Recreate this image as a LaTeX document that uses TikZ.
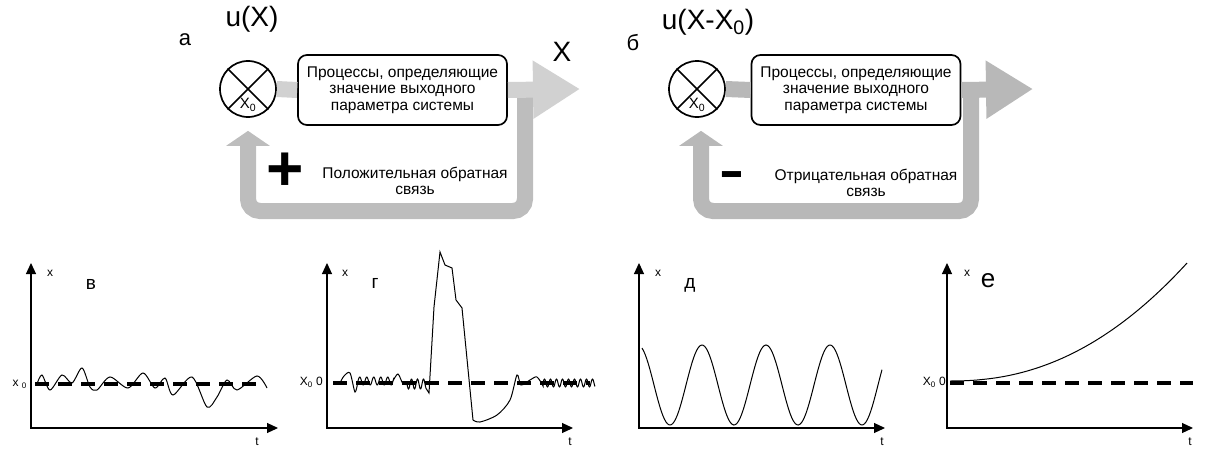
\documentclass[tikz,border=0pt]{standalone}
\usepackage{fontspec}
\setmainfont{Liberation Sans}
\usetikzlibrary{arrows.meta,positioning}
\definecolor{bandA}{gray}{0.82}
\definecolor{fbA}{gray}{0.74}
\definecolor{bandB}{gray}{0.72}

\begin{document}
\begin{tikzpicture}[x=1pt,y=-1pt,>={Triangle[length=11pt,width=10pt]},
 every node/.style={font=\fontsize{15.5}{16.5}\selectfont,inner sep=0pt},
 proc/.style={draw,fill=white,line width=1.7pt,rounded corners=9pt,align=center,minimum width=209pt,minimum height=70pt},
 summ/.style={draw,circle,line width=1.7pt,minimum size=56pt},
 band/.style={line width=16pt},
 lbl/.style={font=\fontsize{22}{22}\selectfont},
 big/.style={font=\fontsize{28}{28}\selectfont},
 ax/.style={line width=1.1pt,<->},
 lvl/.style={line width=3.2pt,dash pattern=on 14pt off 9pt},
 crv/.style={line width=1pt},
 small/.style={font=\fontsize{12}{12}\selectfont},
 gl/.style={font=\fontsize{19}{19}\selectfont}]
\useasboundingbox (0,0) rectangle (1210,452);

\node[lbl] (la) at (185,40) {а};
\node[big] (ua) at (252,19) {u(X)};
\node[big] (xout) at (562,52) {X};
\node[summ] (sumA) at (248,89) {};
\draw[line width=1.7pt] (sumA.north west) -- (sumA.south east) (sumA.north east) -- (sumA.south west);
\node[font=\fontsize{15}{15}\selectfont] (xa) at (248,105) {X\textsubscript{0}};
\node[proc] (procA) at (402.5,90) {Процессы, определяющие\\значение выходного\\параметра системы};
\coordinate (tipA) at (580,89);
\coordinate (fbA) at (525,89);
\coordinate (cA) at (248,211);
\draw[band,fbA,rounded corners=12pt,-{Triangle[length=15pt,width=43pt]},shorten >=13pt] (fbA) |- (cA) -- (sumA.south);
\draw[band,bandA] (sumA.east) -- (procA.west);
\draw[band,bandA,-{Triangle[length=47pt,width=55pt]}] (procA.east) -- (tipA);
\node[font=\fontsize{64}{64}\selectfont\bfseries] (plus) at (285,172) {+};
\node[align=center] (pos) at (415,181) {Положительная обратная\\связь};

\node[lbl] (lb) at (633,43) {б};
\node[big] (ub) at (708,22) {u(X-X\textsubscript{0})};
\node[summ] (sumB) at (697,89) {};
\draw[line width=1.7pt] (sumB.north west) -- (sumB.south east) (sumB.north east) -- (sumB.south west);
\node[font=\fontsize{15}{15}\selectfont] (xb) at (697,105) {X\textsubscript{0}};
\node[proc] (procB) at (856,90) {Процессы, определяющие\\значение выходного\\параметра системы};
\coordinate (tipB) at (1033,89);
\coordinate (fbB) at (971,89);
\coordinate (cB) at (701,211);
\draw[band,bandB,rounded corners=12pt,-{Triangle[length=15pt,width=43pt]},shorten >=13pt] (fbB) |- (cB) -- (sumB.south -| cB);
\draw[band,bandB] (sumB.east) -- (procB.west);
\draw[band,bandB,-{Triangle[length=47pt,width=55pt]}] (procB.east) -- (tipB);
\node[font=\fontsize{50}{50}\selectfont\bfseries] (minus) at (732,180) {\scalebox{1.5}[1]{-}};
\node[align=center] (neg) at (866,183) {Отрицательная обратная\\связь};

\draw[lvl] (35,384) -- (262,384);
\draw[crv] plot[smooth] coordinates {(37,384) (42,375) (50,390) (62,375) (72,383) (82,368) (90,387) (97,390) (110,377) (128,388) (143,373) (155,388) (165,378) (173,395) (192,377) (207,407) (217,397) (227,380) (237,390) (257,376) (267,388)};
\draw[ax] (31,263) -- (31,428) -- (278,428);
\node[small] (xv) at (50,273) {x};
\node[gl] (lv) at (91,284) {в};
\node[small,anchor=east] (x0v) at (27,384) {x \textsubscript{0}};
\node[small] (tv) at (257,442) {t};

\draw[lvl] (333,383) -- (590,383);
\draw[crv] plot[smooth] coordinates {(340,383) (344,376) (350,373) (355,392) (358,381)}
 -- plot[domain=358:393,samples=71] (\x,{381-4*sin((\x-358)*51.43)})
 -- plot[smooth] coordinates {(393,381) (398,374) (403,384) (407,384)}
 -- plot[domain=407:426,samples=41] (\x,{384+5*sin((\x-407)*60)})
 -- (429,393) -- (434,307) -- (440,252) -- (445,265) -- (452,268) -- (456,300) -- (462,308) -- (473,420)
 -- plot[smooth] coordinates {(473,420) (480,422) (497,415) (510,400) (517,375) (521,385) (530,380) (537,377) (543,386)}
 -- plot[domain=543:595,samples=105] (\x,{383-4*sin((\x-543)*60)});
\draw[ax] (327,263) -- (327,428) -- (573,428);
\node[small] (xg) at (345,273) {x};
\node[gl] (lg) at (375,283) {г};
\node[small,anchor=east] (x0g) at (323,382) {X\textsubscript{0} 0};
\node[small] (tg) at (570,442) {t};

\draw[crv] plot[domain=642:882,samples=150] (\x,{385+40*cos(5.625*(\x-670))});
\draw[ax] (639,263) -- (639,428) -- (885,428);
\node[small] (xd) at (658,273) {x};
\node[gl] (ld) at (690,285) {д};
\node[small] (td) at (882,442) {t};

\draw[lvl] (950,383) -- (1193,383);
\draw[crv] (950,381) -- plot[domain=951:1187,samples=80] (\x,{381-118*((\x-950)/237)^2.2});
\draw[ax] (947,263) -- (947,428) -- (1193,428);
\node[small] (xe) at (967,273) {x};
\node[font=\fontsize{26}{26}\selectfont] (le) at (988,281) {е};
\node[small,anchor=east] (x0e) at (946,382) {X\textsubscript{0} 0};
\node[small] (te) at (1190,442) {t};
\end{tikzpicture}
\end{document}
